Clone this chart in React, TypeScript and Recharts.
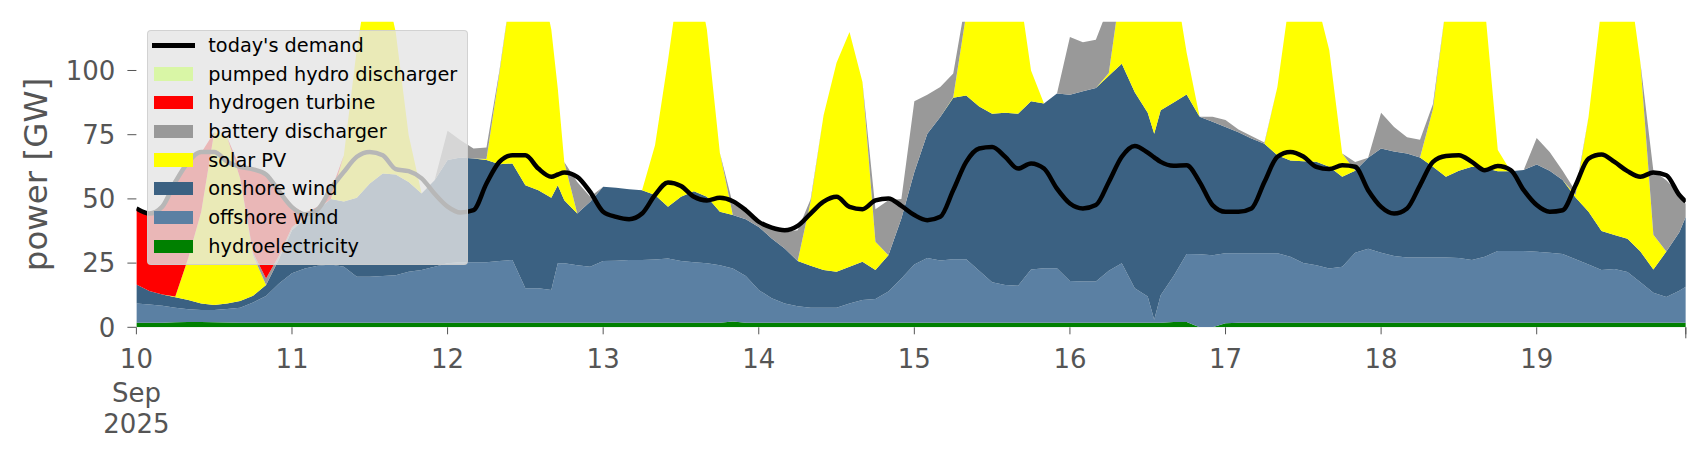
import { ComposedChart, Area, Line, XAxis, YAxis, Legend } from "recharts";

/* samples every 2 h from 10 Sep 2025 00:00 (plus a few sharp dips), last one 19 Sep 23:00 */
const hours = [
  0, 2, 4, 6, 8, 10, 12, 14, 16, 18, 20, 22,
  24, 26, 28, 30, 32, 34, 36, 38, 40, 42, 44, 46,
  48, 50, 52, 54, 56, 58, 60, 62, 64, 65, 66, 68, 70,
  72, 74, 76, 78, 80, 82, 84, 86, 88, 90, 92, 94,
  96, 98, 100, 102, 104, 106, 108, 110, 112, 114, 116, 118,
  120, 122, 124, 126, 128, 130, 132, 134, 136, 138, 140, 142,
  144, 146, 148, 150, 152, 154, 156, 157, 158, 160, 162, 164, 166,
  168, 170, 172, 174, 176, 178, 180, 182, 184, 186, 188, 190,
  192, 194, 196, 198, 200, 202, 204, 206, 208, 210, 212, 214,
  216, 218, 220, 222, 224, 226, 228, 230, 232, 234, 236, 238,
  239,
];

// GW, one row per day
const hydro = [
  1.8, 1.8, 1.8, 2.0, 2.1, 2.1, 2.0, 1.9, 1.8, 1.8, 1.8, 1.8,
  1.8, 1.8, 1.8, 1.8, 1.8, 1.8, 1.8, 1.8, 1.8, 1.8, 1.8, 1.8,
  1.8, 1.8, 1.8, 1.8, 1.8, 1.8, 1.8, 1.8, 1.8, 1.8, 1.8, 1.8, 1.8,
  1.8, 1.8, 1.8, 1.8, 1.8, 1.8, 1.8, 1.8, 1.8, 1.8, 2.3, 1.8,
  1.8, 1.8, 1.8, 1.8, 1.8, 1.8, 1.8, 1.8, 1.8, 1.8, 1.8, 1.8,
  1.8, 1.8, 1.8, 1.8, 1.8, 1.8, 1.8, 1.8, 1.8, 1.8, 1.8, 1.8,
  1.8, 1.8, 1.8, 1.8, 1.8, 1.8, 1.8, 1.8, 1.8, 2.1, 2.1, 0, 0,
  1.6, 1.8, 1.8, 1.8, 1.8, 1.8, 1.8, 1.8, 1.8, 1.8, 1.8, 1.8,
  1.8, 1.8, 1.8, 1.8, 1.8, 1.8, 1.8, 1.8, 1.8, 1.8, 1.8, 1.8,
  1.8, 1.8, 1.8, 1.8, 1.8, 1.8, 1.8, 1.8, 1.8, 1.8, 1.8, 1.8,
  1.8,
];

const offshore = [
  7.5, 7.1, 6.6, 5.6, 4.9, 4.6, 4.7, 5.2, 5.8, 7.9, 10.4, 15.3,
  19.2, 21.1, 22.2, 22.7, 21.8, 17.9, 17.9, 18.2, 18.5, 19.8, 20.5, 21.8,
  23.1, 23.5, 23.5, 23.5, 24, 24.4, 13.4, 13.4, 12.7, 23.1, 23.1, 22.4, 21.8,
  24, 24.1, 24.4, 24.4, 24.6, 25, 24, 23.5, 23.1, 22.4, 20.6, 18.2,
  12.7, 9.5, 7.5, 6.4, 5.8, 5.8, 5.8, 7.5, 8.8, 9.2, 12.1, 17.2,
  22.7, 25.2, 24.2, 24.7, 24.7, 20.2, 15.7, 14.7, 14.4, 20.7, 21.2, 21.2,
  16.2, 16, 16, 20.2, 23.1, 13.4, 10.2, 1.1, 10.7, 17.9, 26.4, 28.4, 28.1,
  27.2, 27, 27, 27, 27, 25.7, 23.2, 22.4, 21.1, 21.8, 27.2, 28.8,
  27.2, 26, 25.4, 25.4, 25.4, 25.4, 25.2, 24.4, 25.7, 27.9, 27.9, 27.9,
  27.6, 27.2, 26.7, 24.7, 22.7, 20.5, 20.9, 19.7, 15.7, 11.7, 10, 12.4,
  14,
];

const onshore = [
  7.4, 5.2, 4.4, 4.1, 3.6, 2.6, 2.0, 2.2, 2.6, 2.6, 4.3, 9.5,
  16.8, 19.4, 22, 25.5, 25.4, 30.7, 36.3, 39.9, 39.2, 35, 29.8, 33.7,
  40.2, 40.8, 40.4, 39.8, 37.7, 37.6, 40.1, 38.2, 35.9, 30.4, 24.6, 20.1, 25.3,
  28.9, 28.4, 27.6, 27.2, 25.1, 20.1, 25, 27.7, 25.9, 20.8, 20.8, 22.1,
  24.6, 23.3, 21.4, 17.6, 16.4, 14.7, 14, 14.3, 14.9, 11.3, 14.2, 23.4,
  36, 48.4, 55.9, 62.9, 63.8, 64, 65.7, 67, 67, 65.5, 64.1, 68,
  72.6, 74.1, 75.4, 76, 77.7, 76.3, 71.5, 72.5, 72, 67.5, 62.2, 53.6, 51.9,
  49.2, 47.2, 44.7, 42.7, 38.2, 37.5, 39.7, 40.3, 39.6, 35, 32, 35.4,
  40.6, 40.7, 40.5, 38.9, 35.3, 31.4, 34, 36.3, 34.5, 31.1, 31.1, 31.6,
  34, 32, 28.9, 24, 20.5, 15.2, 13.2, 13, 12, 9, 17.7, 22.8,
  27.2,
];

const solar = [
  0, 0, 0, 0.3, 16.4, 35.7, 67.3, 64.7, 47.8, 15.7, 0, 0,
  0, 0, 0, 0, 18, 58.1, 84, 78.1, 55.5, 18.2, 0, 0,
  0, 0, 0, 0.4, 35.5, 71.2, 94.7, 86.6, 65.6, 37.7, 14.9, 0, 0,
  0, 0, 0, 0, 19.4, 57.1, 89.2, 89, 65.2, 23, 0, 0,
  0, 0, 0, 0, 24.9, 60.3, 81.4, 91.4, 70, 11, 0, 0,
  0, 0, 0, 0.2, 31.7, 59, 66.8, 66.5, 51.8, 12, 0, 0,
  0, 0, 0, 1, 32.4, 48.5, 56.5, 64.6, 55.5, 50.5, 16.3, 0, 0,
  0, 0, 0, 0, 26.6, 65, 75.3, 63.5, 45.5, 9.1, 0, 0,
  0, 0, 0, 0, 22.5, 66.4, 84, 82.5, 63, 8.2, 0, 0,
  0, 0, 0, 1, 37, 87.5, 109, 105.5, 73.5, 13.5, 0, 0,
  0,
];

const battery = [
  0, 0, 0, 0, 0, 0, 0, 0, 0, 1, 2.5, 1.4,
  1.2, 0.7, 0.3, 0, 0, 0, 0, 0, 0, 0, 0, 0,
  11.4, 6.7, 3.9, 4.5, 1, 0, 0, 0, 0, 0, 0, 12.3, 1.9,
  0, 0, 0, 0, 0, 0, 0, 0, 0, 0, 4.3, 3.5,
  1.3, 3.9, 6.5, 12, 1, 0, 0, 0, 0, 12.7, 21.4, 7.6,
  27.5, 15.2, 11.7, 9.2, 6, 0, 0, 0, 0, 0, 0, 0,
  22.4, 19.1, 18.8, 26, 0, 0, 0, 0, 0, 0, 0, 0, 2,
  2.7, 1, 1, 0.5, 0, 0, 0, 0, 0, 0, 3.4, 0,
  13.9, 9.5, 6.3, 6.9, 2, 0, 0, 0, 0, 0, 0, 0,
  10.3, 7.3, 3.6, 1.5, 0, 0, 0, 0, 0, 25, 27.8, 15,
  5,
];

const hydrogen = [
  29.3, 30.4, 33.7, 44, 37, 23, 0, 0, 4, 32.3, 40.5, 26,
  8.3, 1.5, 0.7, 3, 0, 0, 0, 0, 0, 0, 0, 0,
  0, 0, 0, 0, 0, 0, 0, 0, 0, 0, 0, 0, 0,
  0, 0, 0, 0, 0, 0, 0, 0, 0, 0, 0, 0,
  0, 0, 0, 0, 0, 0, 0, 0, 0, 0, 0, 0,
  0, 0, 0, 0, 0, 0, 0, 0, 0, 0, 0, 0,
  0, 0, 0, 0, 0, 0, 0, 0, 0, 0, 0, 0, 0,
  0, 0, 0, 0, 0, 0, 0, 0, 0, 0, 0, 0,
  0, 0, 0, 0, 0, 0, 0, 0, 0, 0, 0, 0,
  0, 0, 0, 0, 0, 0, 0, 0, 0, 0, 0, 0,
  0,
];

const demand = [
  46.3, 44.3, 47, 56.6, 64.4, 68.3, 68.3, 64.5, 62.5, 61.5, 59.5, 53,
  46.8, 44, 46, 54, 60.5, 66.4, 68.3, 67, 61.6, 60.8, 58, 52,
  47, 44.7, 45.6, 56, 64.4, 67, 67, 61.8, 58.6, 59.5, 60.3, 58.6, 52.7,
  45, 43, 42.1, 44.3, 51.5, 56.4, 55, 50.8, 49.4, 50.4, 49.1, 45.6,
  41.1, 38.8, 37.8, 39.5, 44.3, 48.9, 50.8, 46.9, 46, 49.4, 50.2, 47.3,
  43.7, 41.7, 43, 53.4, 64.4, 69.6, 70.2, 66.4, 61.8, 63.8, 61.8, 54,
  48.2, 46.3, 47.6, 56.6, 66.4, 70.6, 68, 66.2, 64.4, 62.9, 63.1, 56.6, 47.6,
  45, 45, 46.3, 56.6, 66.4, 68.3, 66.5, 62.5, 61.6, 63.1, 62.5, 53.4,
  46.9, 44.3, 46.3, 55.3, 64.4, 66.7, 67, 64.4, 61.2, 62.8, 61.2, 53.4,
  47.6, 45, 45.6, 55.3, 65.7, 67.3, 64.4, 60.8, 58.6, 60.3, 59.2, 51.5,
  48.9,
];

const dayTicks = [0, 24, 48, 72, 96, 120, 144, 168, 192, 216];
const dayLabels = ["10", "11", "12", "13", "14", "15", "16", "17", "18", "19"];
const monthLabel = "Sep";
const yearLabel = "2025";
const endHour = 239;
const yTicks = [0, 25, 50, 75, 100];

// stack order, bottom first
const stack = [
  { key: "hydro", name: "hydroelectricity", color: "#008000" },
  { key: "offshore", name: "offshore wind", color: "#5b80a3" },
  { key: "onshore", name: "onshore wind", color: "#3b6182" },
  { key: "solar", name: "solar PV", color: "#ffff00" },
  { key: "battery", name: "battery discharger", color: "#999999" },
  { key: "hydrogen", name: "hydrogen turbine", color: "#ff0000" },
];

const legendItems = [
  { name: "today's demand", color: "#000000", line: true },
  { name: "pumped hydro discharger", color: "#d9f6a6" },
  { name: "hydrogen turbine", color: "#ff0000" },
  { name: "battery discharger", color: "#999999" },
  { name: "solar PV", color: "#ffff00" },
  { name: "onshore wind", color: "#3b6182" },
  { name: "offshore wind", color: "#5b80a3" },
  { name: "hydroelectricity", color: "#008000" },
];

const LegendBox = () => (
  <div
    style={{
      boxSizing: "border-box",
      width: 321.6,
      height: 235,
      background: "rgba(229,229,229,0.8)",
      border: "1px solid rgba(204,204,204,0.8)",
      borderRadius: 4,
      fontSize: 19.3,
      color: "#000",
    }}
  >
    {legendItems.map((it) => (
      <div
        key={it.name}
        style={{ height: 28.7, display: "flex", alignItems: "center", whiteSpace: "nowrap" }}
      >
        {it.line ? (
          <div style={{ marginLeft: 4, width: 43, height: 4.5, background: it.color }} />
        ) : (
          <div style={{ marginLeft: 6.3, width: 38.7, height: 13.3, background: it.color }} />
        )}
        <span style={{ marginLeft: it.line ? 13.6 : 15.6 }}>{it.name}</span>
      </div>
    ))}
  </div>
);

const DayTick = (props: any) => {
  const { x, y, payload } = props;
  if (payload.value === endHour) {
    return <line x1={x} x2={x} y1={y - 7} y2={y + 4} stroke="#555" />;
  }
  const i = dayTicks.indexOf(payload.value);
  return (
    <g fill="#555" fontSize={26} textAnchor="middle">
      <text x={x} y={y + 33.7}>{dayLabels[i]}</text>
      {i === 0 && <text x={x} y={y + 67.7}>{monthLabel}</text>}
      {i === 0 && <text x={x} y={y + 98.7}>{yearLabel}</text>}
    </g>
  );
};

const YLabel = (props: any) => {
  const vb = props.viewBox || { x: 0, y: 13.7, width: 128.4, height: 305.6 };
  const cx = vb.x + 28;
  const cy = vb.y + vb.height / 2;
  return (
    <text
      x={cx}
      y={cy}
      fill="#555"
      fontSize={32.5}
      textAnchor="middle"
      dominantBaseline="central"
      transform={`rotate(-90, ${cx}, ${cy})`}
    >
      power [GW]
    </text>
  );
};

export default function App() {
  const rows = hours.map((h, i) => ({
    hour: h,
    hydro: hydro[i],
    offshore: offshore[i],
    onshore: onshore[i],
    solar: solar[i],
    battery: battery[i],
    hydrogen: hydrogen[i],
    demand: demand[i],
  }));

  return (
    <div style={{ fontFamily: "'DejaVu Sans', sans-serif", width: 1690, height: 444 }}>
      <ComposedChart
        width={1690}
        height={444}
        data={rows}
        margin={{ top: 13.7, right: 12.2, bottom: 0, left: 0 }}
      >
        <XAxis
          type="number"
          dataKey="hour"
          domain={[0, endHour]}
          ticks={[...dayTicks, endHour]}
          interval={0}
          allowDataOverflow
          axisLine={false}
          tickLine={{ stroke: "#555" }}
          tickSize={7}
          tickMargin={0}
          height={124.7}
          tick={<DayTick />}
        />
        <YAxis
          type="number"
          domain={[0, 119]}
          ticks={yTicks}
          allowDataOverflow
          width={128.4}
          axisLine={false}
          tickLine={{ stroke: "#555" }}
          tickSize={9}
          tickMargin={12}
          tick={{ fill: "#555", fontSize: 26 }}
          label={<YLabel />}
        />
        {stack.map((s) => (
          <Area
            key={s.key}
            dataKey={s.key}
            name={s.name}
            stackId="supply"
            type="linear"
            stroke="none"
            fill={s.color}
            fillOpacity={1}
            isAnimationActive={false}
          />
        ))}
        <Line
          dataKey="demand"
          name="today's demand"
          type="monotoneX"
          stroke="#000"
          strokeWidth={4.5}
          dot={false}
          activeDot={false}
          isAnimationActive={false}
        />
        <Legend
          layout="vertical"
          align="center"
          verticalAlign="middle"
          wrapperStyle={{ left: 138.7, top: 22, width: 321.6, height: 235 }}
          content={() => <LegendBox />}
        />
      </ComposedChart>
    </div>
  );
}
